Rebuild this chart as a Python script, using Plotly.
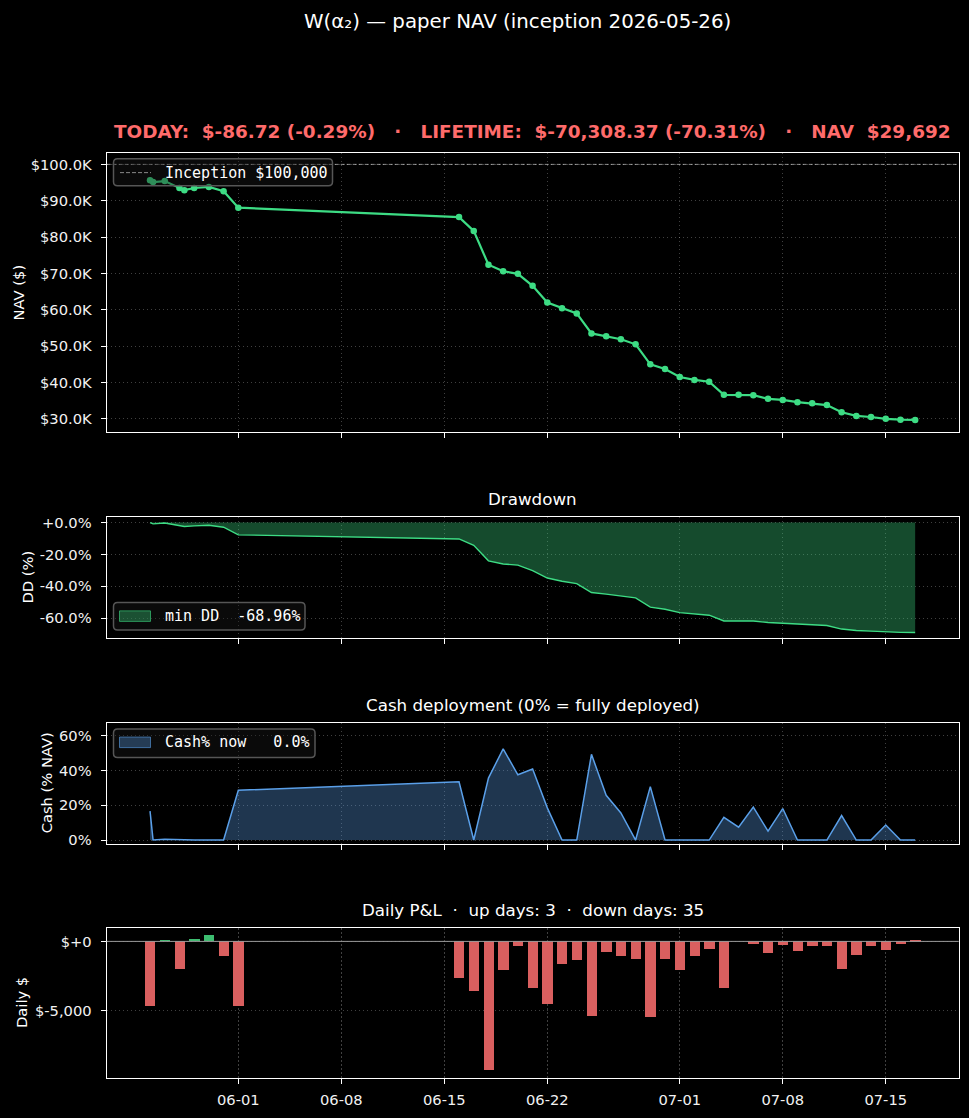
"""
W(a2) paper NAV dashboard: NAV, drawdown, cash deployment and daily P&L panels.
"""

import plotly.graph_objects as go

W, H = 969, 1118

# ── data ──
snap_times = [
    '2026-05-26 00:00', '2026-05-26 05:00', '2026-05-27 00:00', '2026-05-28 00:00', '2026-05-28 08:00',
    '2026-05-29', '2026-05-30', '2026-05-31', '2026-06-01',
    '2026-06-16', '2026-06-17', '2026-06-18', '2026-06-19', '2026-06-20', '2026-06-21', '2026-06-22',
    '2026-06-23', '2026-06-24', '2026-06-25', '2026-06-26', '2026-06-27', '2026-06-28', '2026-06-29',
    '2026-06-30', '2026-07-01', '2026-07-02', '2026-07-03', '2026-07-04', '2026-07-05', '2026-07-06',
    '2026-07-07', '2026-07-08', '2026-07-09', '2026-07-10', '2026-07-11', '2026-07-12', '2026-07-13',
    '2026-07-14', '2026-07-15', '2026-07-16', '2026-07-17',
]
nav_usd = [
    95660, 95150, 95400, 93500, 92900, 93500, 93800, 92600, 88100,
    85500, 81700, 72400, 70600, 69900, 66600, 62000,
    60400, 59000, 53500, 52700, 51900, 50500, 45000,
    43700, 41500, 40700, 40200, 36600, 36600, 36500,
    35500, 35200, 34600, 34300, 33800, 31800, 30800,
    30500, 30000, 29780, 29692,
]
drawdown_pct = [
    0.0, -0.8, -0.3, -2.1, -2.5, -2.1, -1.7, -2.9, -7.7,
    -10.3, -14.3, -24.0, -26.0, -26.7, -30.2, -34.8,
    -36.8, -38.3, -43.9, -44.9, -45.9, -47.2, -53.0,
    -54.4, -56.5, -57.5, -58.1, -61.7, -61.7, -61.7,
    -62.7, -63.1, -63.7, -64.1, -64.6, -66.8, -67.7,
    -68.1, -68.7, -68.9, -68.96,
]
cash_pct = [
    16.6, 0.0, 0.4, 0.0, 0.0, 0.0, 0.0, 0.0, 28.6,
    33.5, 0.0, 35.6, 52.4, 37.5, 40.8, 18.5,
    0.0, 0.0, 49.3, 25.7, 15.6, 0.0, 30.7,
    0.0, 0.0, 0.0, 0.0, 13.1, 7.4, 18.9,
    5.1, 18.1, 0.0, 0.0, 0.0, 14.1, 0.0,
    0.0, 8.6, 0.0, 0.0,
]
pnl_days = [
    '2026-05-26', '2026-05-27', '2026-05-28', '2026-05-29', '2026-05-30', '2026-05-31', '2026-06-01',
    '2026-06-16', '2026-06-17', '2026-06-18', '2026-06-19', '2026-06-20', '2026-06-21', '2026-06-22',
    '2026-06-23', '2026-06-24', '2026-06-25', '2026-06-26', '2026-06-27', '2026-06-28', '2026-06-29',
    '2026-06-30', '2026-07-01', '2026-07-02', '2026-07-03', '2026-07-04', '2026-07-05', '2026-07-06',
    '2026-07-07', '2026-07-08', '2026-07-09', '2026-07-10', '2026-07-11', '2026-07-12', '2026-07-13',
    '2026-07-14', '2026-07-15', '2026-07-16', '2026-07-17',
]
pnl_usd = [
    -4690, 2, -2050, 170, 450, -1050, -4690,
    -2690, -3620, -9260, -2120, -330, -3400, -4550,
    -1690, -1400, -5400, -830, -1050, -1330, -5480,
    -1330, -2120, -1050, -550, -3400, 0, -190,
    -900, -260, -690, -330, -330, -2050, -980,
    -330, -620, -190, -86.72,
]

date_ticks = ['2026-06-01', '2026-06-08', '2026-06-15', '2026-06-22', '2026-07-01', '2026-07-08', '2026-07-15']
date_labels = ['06-01', '06-08', '06-15', '06-22', '07-01', '07-08', '07-15']
x_range = ['2026-05-23 01:20', '2026-07-19 23:00']

nav_ticks = [30000, 40000, 50000, 60000, 70000, 80000, 90000, 100000]
nav_labels = ['$30.0K', '$40.0K', '$50.0K', '$60.0K', '$70.0K', '$80.0K', '$90.0K', '$100.0K']
dd_ticks = [-60, -40, -20, 0]
dd_labels = ['-60.0%', '-40.0%', '-20.0%', '+0.0%']
cash_ticks = [0, 20, 40, 60]
cash_labels = ['0%', '20%', '40%', '60%']
pnl_ticks = [-5000, 0]
pnl_labels = ['$-5,000', '$+0']

# ── styling ──
GREEN = '#3ddc84'
BLUE = '#5a9fe8'
RED_TXT = '#ff6b6b'
FONT = 'DejaVu Sans'
MONO = 'DejaVu Sans Mono'
TICK_FONT = dict(family=FONT, size=14.7, color='#f2f2f2')
GRID = 'rgba(255,255,255,0.25)'
GRID_DASH = '1.2px,2.8px'


def px(x):
    return x / W


def py(y):
    return 1 - y / H


x_dom = [px(106.7), px(958.7)]
panels = [  # (top px, bottom px)
    (150.7, 432.0),
    (517.3, 639.0),
    (724.3, 846.0),
    (931.3, 1081.3),
]

fig = go.Figure()

# NAV
fig.add_trace(go.Scatter(
    x=snap_times, y=nav_usd, mode='lines+markers',
    line=dict(color=GREEN, width=2.2), marker=dict(color=GREEN, size=6.5),
    xaxis='x', yaxis='y',
))
# Drawdown
fig.add_trace(go.Scatter(
    x=snap_times, y=drawdown_pct, mode='lines', fill='tozeroy',
    fillcolor='rgba(61,220,132,0.34)', line=dict(color=GREEN, width=1.4),
    xaxis='x2', yaxis='y2',
))
# Cash
fig.add_trace(go.Scatter(
    x=snap_times, y=cash_pct, mode='lines', fill='tozeroy',
    fillcolor='rgba(90,159,232,0.34)', line=dict(color=BLUE, width=1.5),
    xaxis='x3', yaxis='y3',
))
# Daily P&L
bar_colors = ['#3dbd70' if v > 0 else '#d95f5f' for v in pnl_usd]
fig.add_trace(go.Bar(
    x=pnl_days, y=pnl_usd, width=0.7 * 86400000,
    marker=dict(color=bar_colors, line=dict(width=0)),
    xaxis='x4', yaxis='y4',
))

# ── axes ──
y_ranges = [[26300, 103200], [-72.4, 3.45], [-2.1, 67.4], [-9790, 930]]
y_ticks = [(nav_ticks, nav_labels), (dd_ticks, dd_labels), (cash_ticks, cash_labels), (pnl_ticks, pnl_labels)]

axes = {}
for i, (top, bot) in enumerate(panels):
    sfx = '' if i == 0 else str(i + 1)
    axes['xaxis' + sfx] = dict(
        type='date', domain=x_dom, range=x_range, anchor='y' + sfx,
        tickvals=date_ticks, ticktext=date_labels, showticklabels=(i == 3),
        ticks='outside', ticklen=5, tickwidth=1, tickcolor='#ffffff',
        tickfont=TICK_FONT, ticklabelstandoff=4,
        showline=True, mirror=True, linecolor='#ffffff', linewidth=1.2,
        showgrid=True, gridcolor=GRID, griddash=GRID_DASH, gridwidth=1, zeroline=False,
    )
    tv, tt = y_ticks[i]
    axes['yaxis' + sfx] = dict(
        domain=[py(bot), py(top)], range=y_ranges[i], anchor='x' + sfx,
        tickvals=tv, ticktext=tt,
        ticks='outside', ticklen=5, tickwidth=1, tickcolor='#ffffff',
        tickfont=TICK_FONT, ticklabelstandoff=6,
        showline=True, mirror=True, linecolor='#ffffff', linewidth=1.2,
        showgrid=True, gridcolor=GRID, griddash=GRID_DASH, gridwidth=1, zeroline=False,
    )

shapes = [
    # inception reference
    dict(type='line', xref='x domain', yref='y', x0=0, x1=1, y0=100000, y1=100000,
         line=dict(color='#8a8a8a', width=1, dash='4px,2px'), layer='below'),
    # zero line in P&L
    dict(type='line', xref='x4 domain', yref='y4', x0=0, x1=1, y0=0, y1=0,
         line=dict(color='#9a9a9a', width=1), layer='above'),
]


def legend_box(x0, y0, x1, y1, r=4):
    rx, ry = r / W, r / H
    X0, X1, Y0, Y1 = px(x0), px(x1), py(y0), py(y1)
    path = (f'M {X0 + rx},{Y0} L {X1 - rx},{Y0} Q {X1},{Y0} {X1},{Y0 - ry} '
            f'L {X1},{Y1 + ry} Q {X1},{Y1} {X1 - rx},{Y1} L {X0 + rx},{Y1} '
            f'Q {X0},{Y1} {X0},{Y1 + ry} L {X0},{Y0 - ry} Q {X0},{Y0} {X0 + rx},{Y0} Z')
    return dict(type='path', xref='paper', yref='paper', path=path,
                fillcolor='rgba(25,25,25,0.4)', line=dict(color='#565656', width=1.5), layer='above')


shapes.append(legend_box(113.5, 156.7, 332.5, 184))
shapes.append(dict(type='line', xref='paper', yref='paper', x0=px(120), x1=px(151), y0=py(170.7), y1=py(170.7),
                   line=dict(color='#8a8a8a', width=1, dash='4px,2px')))
shapes.append(legend_box(113.5, 603.3, 305, 631))
shapes.append(dict(type='rect', xref='paper', yref='paper', x0=px(119.5), x1=px(150.5), y0=py(622.3), y1=py(611.7),
                   fillcolor='rgba(61,220,132,0.34)', line=dict(color='rgba(61,220,132,0.6)', width=1)))
shapes.append(legend_box(113.5, 730.7, 315, 759.3))
shapes.append(dict(type='rect', xref='paper', yref='paper', x0=px(119.5), x1=px(150.5), y0=py(749.3), y1=py(738.7),
                   fillcolor='rgba(90,159,232,0.34)', line=dict(color='rgba(90,159,232,0.6)', width=1)))

NB = '\u00a0'


def note(text, x, y, size, color='#ffffff', family=FONT, xanchor='center', angle=0):
    return dict(text=text, xref='paper', yref='paper', x=px(x), y=py(y), showarrow=False,
                xanchor=xanchor, yanchor='middle', textangle=angle,
                font=dict(family=family, size=size, color=color))


annotations = [
    note('W(α₂) — paper NAV (inception 2026-05-26)', 517.5, 19, 19.8),
    note(f'<b>TODAY:{NB*2}$-86.72 (-0.29%){NB*3}·{NB*3}LIFETIME:{NB*2}$-70,308.37 (-70.31%)'
         f'{NB*3}·{NB*3}NAV{NB*2}$29,692</b>', 532.0, 129, 18.4, color=RED_TXT),
    note('Drawdown', 532.7, 499, 16.7),
    note('Cash deployment (0% = fully deployed)', 532.7, 706, 16.7),
    note(f'Daily P&L{NB*2}·{NB*2}up days: 3{NB*2}·{NB*2}down days: 35', 532.7, 913, 16.7),
    note('NAV ($)', 18, 291.3, 14.7, angle=-90),
    note('DD (%)', 28, 578.2, 14.7, angle=-90),
    note('Cash (% NAV)', 46, 785.2, 14.7, angle=-90),
    note('Daily $', 22, 1006.3, 14.7, angle=-90),
    note('Inception $100,000', 162.5, 170.7, 15, family=MONO, xanchor='left'),
    note(f'min DD{NB*2}-68.96%', 162.5, 617, 15, family=MONO, xanchor='left'),
    note(f'Cash% now{NB*3}0.0%', 162.5, 744, 15, family=MONO, xanchor='left'),
]

fig.update_layout(
    width=W, height=H,
    margin=dict(l=0, r=0, t=0, b=0),
    paper_bgcolor='#000000', plot_bgcolor='#000000',
    font=dict(family=FONT, color='#ffffff'),
    showlegend=False,
    bargap=0,
    shapes=shapes,
    annotations=annotations,
    **axes,
)

# drop the browser's default body margin so the figure sits at the page origin
fig.write_html('out.html', config={'displayModeBar': False},
               post_script="document.body.style.margin='0px';"
                           "document.body.style.background='#000000';")
